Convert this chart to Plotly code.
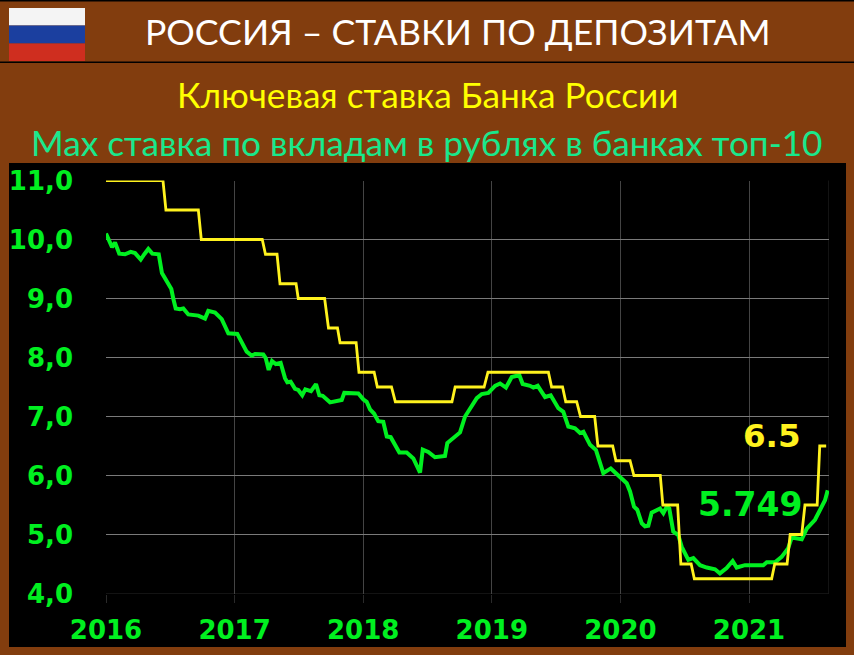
import plotly.graph_objects as go

W, H = 854, 655
BROWN = "#823D0E"

title_text = "РОССИЯ – СТАВКИ ПО ДЕПОЗИТАМ"
sub1_text = "Ключевая ставка Банка России"
sub2_text = "Max ставка по вкладам в рублях в банках топ-10"

year_ticks = [2016, 2017, 2018, 2019, 2020, 2021]
year_labels = ["2016", "2017", "2018", "2019", "2020", "2021"]
rate_ticks = [4, 5, 6, 7, 8, 9, 10, 11]
rate_labels = ["4,0", "5,0", "6,0", "7,0", "8,0", "9,0", "10,0", "11,0"]

key_years = [2016.0, 2016.443, 2016.466, 2016.718, 2016.741, 2017.215, 2017.24, 2017.33, 2017.353,
             2017.478, 2017.495, 2017.70, 2017.73, 2017.80, 2017.82, 2017.945, 2017.967, 2018.085,
             2018.11, 2018.22, 2018.25, 2018.69, 2018.715, 2018.94, 2018.97, 2019.44, 2019.465,
             2019.55, 2019.575, 2019.66, 2019.69, 2019.80, 2019.825, 2019.94, 2019.965, 2020.075,
             2020.105, 2020.31, 2020.33, 2020.445, 2020.47, 2020.55, 2020.575, 2021.176, 2021.20,
             2021.296, 2021.32, 2021.41, 2021.435, 2021.53, 2021.55, 2021.60]
key_rate = [11, 11, 10.5, 10.5, 10, 10, 9.75, 9.75, 9.25,
            9.25, 9, 9, 8.5, 8.5, 8.25, 8.25, 7.75, 7.75,
            7.5, 7.5, 7.25, 7.25, 7.5, 7.5, 7.75, 7.75, 7.5,
            7.5, 7.25, 7.25, 7, 7, 6.5, 6.5, 6.25, 6.25,
            6, 6, 5.5, 5.5, 4.5, 4.5, 4.25, 4.25, 4.5,
            4.5, 5, 5, 5.5, 5.5, 6.5, 6.5]

deposit_years = [2016.0, 2016.026, 2016.047, 2016.070, 2016.103, 2016.148, 2016.192, 2016.226, 2016.270,
                 2016.298, 2016.329, 2016.360, 2016.410, 2016.435, 2016.472, 2016.508, 2016.523, 2016.542,
                 2016.575, 2016.601, 2016.640, 2016.718, 2016.770, 2016.795, 2016.848, 2016.900, 2016.951,
                 2017.021, 2017.094, 2017.133, 2017.159, 2017.223, 2017.242, 2017.265, 2017.291, 2017.320,
                 2017.358, 2017.392, 2017.410, 2017.436, 2017.470, 2017.495, 2017.526, 2017.550, 2017.594,
                 2017.633, 2017.659, 2017.685, 2017.742, 2017.806, 2017.833, 2017.853, 2017.962, 2018.001,
                 2018.027, 2018.053, 2018.084, 2018.117, 2018.156, 2018.183, 2018.214, 2018.281, 2018.338,
                 2018.390, 2018.442, 2018.463, 2018.506, 2018.558, 2018.636, 2018.654, 2018.701, 2018.753,
                 2018.792, 2018.830, 2018.883, 2018.922, 2018.973, 2019.025, 2019.064, 2019.110, 2019.155,
                 2019.214, 2019.240, 2019.297, 2019.323, 2019.357, 2019.414, 2019.458, 2019.517, 2019.556,
                 2019.595, 2019.647, 2019.686, 2019.712, 2019.764, 2019.810, 2019.867, 2019.925, 2020.014,
                 2020.049, 2020.075, 2020.106, 2020.131, 2020.166, 2020.191, 2020.217, 2020.243, 2020.308,
                 2020.334, 2020.360, 2020.380, 2020.411, 2020.450, 2020.477, 2020.528, 2020.567, 2020.619,
                 2020.671, 2020.736, 2020.774, 2020.826, 2020.873, 2020.904, 2020.969, 2021.111, 2021.138,
                 2021.202, 2021.254, 2021.305, 2021.332, 2021.410, 2021.449, 2021.513, 2021.552, 2021.591,
                 2021.612]
deposit_rate = [10.10, 9.97, 9.87, 9.95, 9.76, 9.75, 9.79, 9.77, 9.66,
                9.75, 9.84, 9.76, 9.75, 9.43, 9.29, 9.16, 9.00, 8.83,
                8.82, 8.83, 8.73, 8.71, 8.66, 8.79, 8.76, 8.65, 8.41,
                8.40, 8.10, 8.03, 8.06, 8.05, 7.99, 7.79, 7.94, 7.89,
                7.91, 7.65, 7.58, 7.59, 7.47, 7.45, 7.36, 7.46, 7.43,
                7.55, 7.36, 7.35, 7.24, 7.26, 7.28, 7.40, 7.39, 7.29,
                7.25, 7.12, 7.05, 6.92, 6.91, 6.66, 6.65, 6.39, 6.39,
                6.29, 6.05, 6.44, 6.40, 6.31, 6.33, 6.55, 6.63, 6.73,
                7.00, 7.12, 7.31, 7.38, 7.40, 7.52, 7.56, 7.49, 7.67,
                7.70, 7.55, 7.52, 7.49, 7.52, 7.33, 7.36, 7.14, 7.08,
                6.83, 6.80, 6.72, 6.74, 6.52, 6.43, 6.04, 6.12, 5.93,
                5.87, 5.73, 5.47, 5.42, 5.19, 5.14, 5.15, 5.37, 5.44,
                5.36, 5.47, 5.44, 5.05, 4.99, 4.79, 4.57, 4.60, 4.48,
                4.44, 4.41, 4.34, 4.43, 4.55, 4.44, 4.48, 4.48, 4.53,
                4.53, 4.62, 4.77, 4.95, 4.92, 5.10, 5.25, 5.42, 5.58,
                5.749]

key_label = "6.5"
deposit_label = "5.749"

fx = lambda px: px / W
fy = lambda py: 1 - py / H


def band(x0, y0, x1, y1, color):
    return dict(type="rect", xref="paper", yref="paper", layer="below",
                x0=fx(x0), x1=fx(x1), y0=fy(y0), y1=fy(y1),
                fillcolor=color, line_width=0)


def page_text(text, x, y, size, color, family="Lato"):
    return dict(text=text, xref="paper", yref="paper", x=fx(x), y=fy(y),
                xanchor="center", yanchor="middle", showarrow=False,
                font=dict(family=family, size=size, color=color))


fig = go.Figure()
fig.add_trace(go.Scatter(x=deposit_years, y=deposit_rate, mode="lines", cliponaxis=False,
                         line=dict(color="#00F020", width=4), name="Max ставка"))
fig.add_trace(go.Scatter(x=key_years, y=key_rate, mode="lines", cliponaxis=False,
                         line=dict(color="#FFF21E", width=2.8), name="Ключевая ставка"))

shapes = [
    band(0, 0, W, 1.5, "#000000"),
    band(0, 61.5, W, 63, "#000000"),
    band(9, 163, 846, 647, "#000000"),
    band(9, 8, 85, 25.5, "#F4F4F4"),
    band(9, 25.5, 85, 43.5, "#1B3F9F"),
    band(9, 43.5, 85, 61, "#CF2E1F"),
    dict(type="line", xref="paper", yref="y", layer="between", x0=fx(106), x1=fx(829),
         y0=4, y1=4, line=dict(color="#262626", width=1.2)),
    dict(type="line", xref="x", yref="paper", layer="between", x0=2021.622, x1=2021.622,
         y0=fy(593.5), y1=fy(180.5), line=dict(color="#262626", width=1)),
]

annotations = [
    page_text(title_text, 458, 32, 35.6, "#FFFFFF"),
    page_text(sub1_text, 427, 94, 35.2, "#FFFF00"),
    page_text(sub2_text, 427, 142, 35.2, "#19E88C"),
    dict(text=key_label, xref="paper", yref="paper", x=fx(771.5), y=fy(436), showarrow=False,
         xanchor="center", yanchor="middle",
         font=dict(family="DejaVu Sans", size=32.5, color="#FFF21E", weight="bold")),
    dict(text=deposit_label, xref="paper", yref="paper", x=fx(750), y=fy(504), showarrow=False,
         xanchor="center", yanchor="middle",
         font=dict(family="DejaVu Sans", size=33, color="#00F020", weight="bold")),
]

fig.update_layout(
    width=W, height=H, autosize=False,
    margin=dict(l=0, r=0, t=0, b=0),
    paper_bgcolor=BROWN, plot_bgcolor="rgba(0,0,0,0)",
    showlegend=False, shapes=shapes, annotations=annotations,
    xaxis=dict(domain=[fx(106), fx(829)], range=[2016, 2021.622], automargin=False,
               tickmode="array", tickvals=year_ticks, ticktext=year_labels,
               showgrid=True, gridcolor="#444444", gridwidth=1.2, zeroline=False, showline=False,
               ticks="outside", ticklen=8, tickcolor="#2a2a2a", tickwidth=1.2,
               ticklabelstandoff=5,
               tickfont=dict(family="DejaVu Sans", size=26, color="#00F020", weight="bold")),
    yaxis=dict(domain=[fy(593.5), fy(180.5)], range=[4, 11], automargin=False,
               tickmode="array", tickvals=rate_ticks, ticktext=rate_labels,
               showgrid=True, gridcolor="#7a7a7a", gridwidth=1.1, zeroline=False, showline=False,
               ticks="", ticklabelstandoff=32,
               tickfont=dict(family="DejaVu Sans", size=26, color="#00F020", weight="bold")),
)

fig.write_html("out.html", config={"displayModeBar": False},
               post_script="document.body.style.margin='0';document.documentElement.style.overflow='hidden';")
